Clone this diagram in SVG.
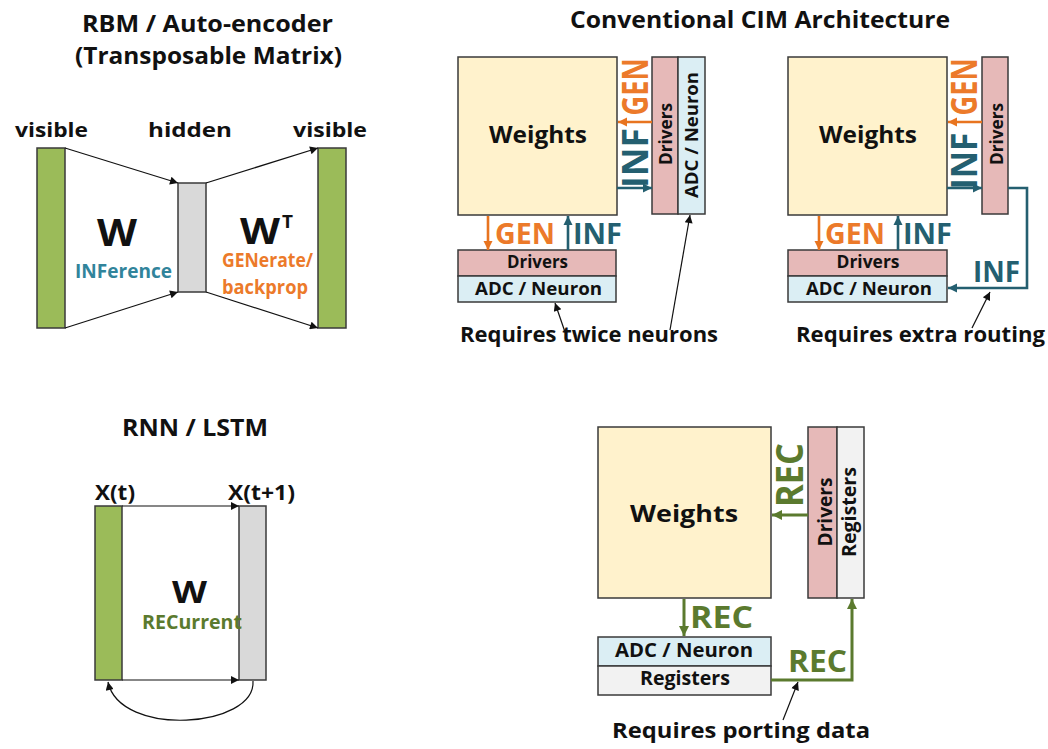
<svg xmlns="http://www.w3.org/2000/svg" width="1048" height="749" viewBox="0 0 1048 749">
<defs>
<style>
text{font-family:"Open Sans","Liberation Sans",Arial,sans-serif;font-weight:700;fill:#111;text-anchor:middle}
.box{stroke:#3a3a3a;stroke-width:1.5}
.w{fill:#fff2cc}.drv{fill:#e6b9b8}.adc{fill:#dbeef4}.reg{fill:#f2f2f2}.grn{fill:#9bbb59}.gry{fill:#d9d9d9}
.blk{stroke:#111;stroke-width:1.2;fill:none}
.or{stroke:#e8741f;stroke-width:2.6;fill:none}
.tl{stroke:#245f70;stroke-width:2.6;fill:none}
.rc{stroke:#5b7a2e;stroke-width:3;fill:none}
.tor{fill:#ec7a2a}.ttl{fill:#245f70}.trc{fill:#5b7a2e}.tinf{fill:#31849b}
</style>
<marker id="mb" viewBox="0 0 10 10" refX="10" refY="5" markerWidth="11" markerHeight="8" markerUnits="userSpaceOnUse" orient="auto"><path d="M0,0 L10,5 L0,10 z" fill="#111"/></marker>
<marker id="mo" viewBox="0 0 10 10" refX="10" refY="5" markerWidth="9" markerHeight="10" markerUnits="userSpaceOnUse" orient="auto"><path d="M0,0 L10,5 L0,10 z" fill="#e8741f"/></marker>
<marker id="mt" viewBox="0 0 10 10" refX="10" refY="5" markerWidth="9" markerHeight="10" markerUnits="userSpaceOnUse" orient="auto"><path d="M0,0 L10,5 L0,10 z" fill="#245f70"/></marker>
<marker id="mr" viewBox="0 0 10 10" refX="10" refY="5" markerWidth="10" markerHeight="11" markerUnits="userSpaceOnUse" orient="auto"><path d="M0,0 L10,5 L0,10 z" fill="#5b7a2e"/></marker>
</defs>
<rect width="1048" height="749" fill="#fff"/>

<!-- RBM section -->
<g id="rbm-title">
<text x="207.5" y="32" font-size="24" textLength="251" lengthAdjust="spacingAndGlyphs">RBM / Auto-encoder</text>
<text x="208.5" y="64" font-size="24" textLength="267" lengthAdjust="spacingAndGlyphs">(Transposable Matrix)</text>
</g>
<g id="rbm-visible-left">
<rect class="box grn" x="37" y="148" width="28" height="180"/>
<text x="51.5" y="137" font-size="19" textLength="73" lengthAdjust="spacingAndGlyphs">visible</text>
</g>
<g id="rbm-hidden">
<rect class="box gry" x="178" y="183" width="28" height="109" stroke="#595959"/>
<text x="190" y="137" font-size="19" textLength="84" lengthAdjust="spacingAndGlyphs">hidden</text>
</g>
<g id="rbm-visible-right">
<rect class="box grn" x="318" y="148" width="28" height="180"/>
<text x="330" y="137" font-size="19" textLength="74" lengthAdjust="spacingAndGlyphs">visible</text>
</g>
<g id="rbm-labels">
<text x="117" y="246" font-size="38" textLength="40" lengthAdjust="spacingAndGlyphs">W</text>
<text x="123.5" y="278" font-size="20" class="tinf" textLength="97" lengthAdjust="spacingAndGlyphs">INFerence</text>
<text x="260" y="244" font-size="35" textLength="40" lengthAdjust="spacingAndGlyphs">W</text>
<text x="287.5" y="228" font-size="17" textLength="11" lengthAdjust="spacingAndGlyphs">T</text>
<text x="267.5" y="267" font-size="19" class="tor" textLength="91" lengthAdjust="spacingAndGlyphs">GENerate/</text>
<text x="265" y="294" font-size="19" class="tor" textLength="86" lengthAdjust="spacingAndGlyphs">backprop</text>
</g>

<!-- Conventional CIM -->
<g id="conv-title">
<text x="760" y="28" font-size="24" textLength="380" lengthAdjust="spacingAndGlyphs">Conventional CIM Architecture</text>
</g>
<g id="conv1-weights">
<rect class="box w" x="458" y="57" width="159" height="158"/>
<text x="538" y="143" font-size="24" textLength="98" lengthAdjust="spacingAndGlyphs">Weights</text>
</g>
<g id="conv1-right-drivers">
<rect class="box drv" x="652" y="57" width="26" height="157"/>
<text transform="translate(672,134) rotate(-90)" font-size="18" textLength="62" lengthAdjust="spacingAndGlyphs">Drivers</text>
</g>
<g id="conv1-right-adc">
<rect class="box adc" x="678" y="57" width="27" height="157"/>
<text transform="translate(698,135) rotate(-90)" font-size="18" textLength="126" lengthAdjust="spacingAndGlyphs">ADC / Neuron</text>
</g>
<g id="conv1-bottom-drivers">
<rect class="box drv" x="458" y="250" width="158" height="26"/>
<text x="537.5" y="268" font-size="18" textLength="61" lengthAdjust="spacingAndGlyphs">Drivers</text>
</g>
<g id="conv1-bottom-adc">
<rect class="box adc" x="458" y="276" width="158" height="26"/>
<text x="538.5" y="295" font-size="18" textLength="127" lengthAdjust="spacingAndGlyphs">ADC / Neuron</text>
</g>
<g id="conv1-labels">
<text x="525" y="244" font-size="29" class="tor" textLength="60" lengthAdjust="spacingAndGlyphs">GEN</text>
<text x="597.5" y="244" font-size="29" class="ttl" textLength="49" lengthAdjust="spacingAndGlyphs">INF</text>
<text transform="translate(648,158) rotate(-90)" font-size="36" class="ttl" textLength="60" lengthAdjust="spacingAndGlyphs">INF</text>
<text transform="translate(648,87) rotate(-90)" font-size="36" class="tor" textLength="57" lengthAdjust="spacingAndGlyphs">GEN</text>
<text x="589" y="342" font-size="21" textLength="258" lengthAdjust="spacingAndGlyphs">Requires twice neurons</text>
</g>

<g id="conv2-weights">
<rect class="box w" x="788" y="57" width="159" height="158"/>
<text x="868" y="143" font-size="24" textLength="98" lengthAdjust="spacingAndGlyphs">Weights</text>
</g>
<g id="conv2-right-drivers">
<rect class="box drv" x="982" y="57" width="26" height="157"/>
<text transform="translate(1003,134) rotate(-90)" font-size="18" textLength="62" lengthAdjust="spacingAndGlyphs">Drivers</text>
</g>
<g id="conv2-bottom-drivers">
<rect class="box drv" x="788" y="250" width="159" height="26"/>
<text x="868" y="268" font-size="18" textLength="63" lengthAdjust="spacingAndGlyphs">Drivers</text>
</g>
<g id="conv2-bottom-adc">
<rect class="box adc" x="788" y="276" width="159" height="26"/>
<text x="869" y="295" font-size="18" textLength="126" lengthAdjust="spacingAndGlyphs">ADC / Neuron</text>
</g>
<g id="conv2-labels">
<text x="855" y="244" font-size="29" class="tor" textLength="60" lengthAdjust="spacingAndGlyphs">GEN</text>
<text x="927.5" y="244" font-size="29" class="ttl" textLength="49" lengthAdjust="spacingAndGlyphs">INF</text>
<text transform="translate(977,161) rotate(-90)" font-size="36" class="ttl" textLength="57" lengthAdjust="spacingAndGlyphs">INF</text>
<text transform="translate(977,87) rotate(-90)" font-size="36" class="tor" textLength="57" lengthAdjust="spacingAndGlyphs">GEN</text>
<text x="996.5" y="282" font-size="29" class="ttl" textLength="47" lengthAdjust="spacingAndGlyphs">INF</text>
<text x="920.5" y="342" font-size="21" textLength="249" lengthAdjust="spacingAndGlyphs">Requires extra routing</text>
</g>

<!-- RNN -->
<g id="rnn-title">
<text x="195" y="436" font-size="23" textLength="146" lengthAdjust="spacingAndGlyphs">RNN / LSTM</text>
</g>
<g id="rnn-xt">
<rect class="box grn" x="95" y="506" width="27" height="174"/>
<text x="115" y="500" font-size="21" textLength="40" lengthAdjust="spacingAndGlyphs">X(t)</text>
</g>
<g id="rnn-xt1">
<rect class="box gry" x="239" y="506" width="27" height="174" stroke="#595959"/>
<text x="261.5" y="500" font-size="21" textLength="67" lengthAdjust="spacingAndGlyphs">X(t+1)</text>
</g>
<g id="rnn-labels">
<text x="189.5" y="603" font-size="31" textLength="35" lengthAdjust="spacingAndGlyphs">W</text>
<text x="192" y="629" font-size="19" class="trc" textLength="100" lengthAdjust="spacingAndGlyphs">RECurrent</text>
</g>

<!-- Recurrent CIM -->
<g id="rec-weights">
<rect class="box w" x="598" y="427" width="173" height="171"/>
<text x="684" y="522" font-size="24" textLength="108" lengthAdjust="spacingAndGlyphs">Weights</text>
</g>
<g id="rec-right-drivers">
<rect class="box drv" x="808" y="427" width="29" height="171"/>
<text transform="translate(832,512) rotate(-90)" font-size="19" textLength="69" lengthAdjust="spacingAndGlyphs">Drivers</text>
</g>
<g id="rec-right-registers">
<rect class="box reg" x="837" y="427" width="27" height="171"/>
<text transform="translate(856,512) rotate(-90)" font-size="19" textLength="90" lengthAdjust="spacingAndGlyphs">Registers</text>
</g>
<g id="rec-bottom-adc">
<rect class="box adc" x="598" y="637" width="173" height="29"/>
<text x="684" y="657" font-size="19" textLength="138" lengthAdjust="spacingAndGlyphs">ADC / Neuron</text>
</g>
<g id="rec-bottom-registers">
<rect class="box reg" x="598" y="666" width="173" height="29"/>
<text x="685" y="685" font-size="19" textLength="90" lengthAdjust="spacingAndGlyphs">Registers</text>
</g>
<g id="rec-labels">
<text transform="translate(803,475) rotate(-90)" font-size="38" class="trc" textLength="64" lengthAdjust="spacingAndGlyphs">REC</text>
<text x="721.5" y="628" font-size="30" class="trc" textLength="63" lengthAdjust="spacingAndGlyphs">REC</text>
<text x="817.5" y="672" font-size="30" class="trc" textLength="59" lengthAdjust="spacingAndGlyphs">REC</text>
<text x="741" y="738" font-size="21" textLength="258" lengthAdjust="spacingAndGlyphs">Requires porting data</text>
</g>

<!-- connectors -->
<g id="connectors">
<line class="blk" x1="65" y1="148" x2="178" y2="183" marker-end="url(#mb)"/>
<line class="blk" x1="65" y1="328" x2="178" y2="292" marker-end="url(#mb)"/>
<line class="blk" x1="206" y1="183" x2="318" y2="148" marker-end="url(#mb)"/>
<line class="blk" x1="206" y1="292" x2="318" y2="328" marker-end="url(#mb)"/>

<line class="or" x1="488" y1="216" x2="488" y2="250" marker-end="url(#mo)"/>
<line class="tl" x1="568" y1="250" x2="568" y2="216" marker-end="url(#mt)"/>
<line class="or" x1="652" y1="122" x2="618" y2="122" marker-end="url(#mo)"/>
<line class="tl" x1="617" y1="188" x2="652" y2="188" marker-end="url(#mt)"/>
<line class="blk" x1="565" y1="332" x2="555" y2="303" marker-end="url(#mb)"/>
<line class="blk" x1="670" y1="330" x2="690" y2="215" marker-end="url(#mb)"/>

<line class="or" x1="819" y1="216" x2="819" y2="250" marker-end="url(#mo)"/>
<line class="tl" x1="898" y1="250" x2="898" y2="216" marker-end="url(#mt)"/>
<line class="or" x1="982" y1="122" x2="948" y2="122" marker-end="url(#mo)"/>
<line class="tl" x1="947" y1="188" x2="982" y2="188" marker-end="url(#mt)"/>
<polyline class="tl" points="1008,188 1027,188 1027,288 948,288" marker-end="url(#mt)"/>
<line class="blk" x1="972" y1="328" x2="990" y2="292" marker-end="url(#mb)"/>

<line class="blk" x1="122" y1="506" x2="239" y2="506" marker-end="url(#mb)"/>
<line class="blk" x1="122" y1="680" x2="239" y2="680" marker-end="url(#mb)"/>
<path class="blk" d="M253,681 C256,728 120,738 108,682" marker-end="url(#mb)"/>

<line class="rc" x1="808" y1="515" x2="772" y2="515" marker-end="url(#mr)"/>
<line class="rc" x1="684" y1="599" x2="684" y2="636" marker-end="url(#mr)"/>
<polyline class="rc" points="771,680 852,680 852,599" marker-end="url(#mr)"/>
<line class="blk" x1="783" y1="720" x2="798" y2="682" marker-end="url(#mb)"/>
</g>
</svg>
